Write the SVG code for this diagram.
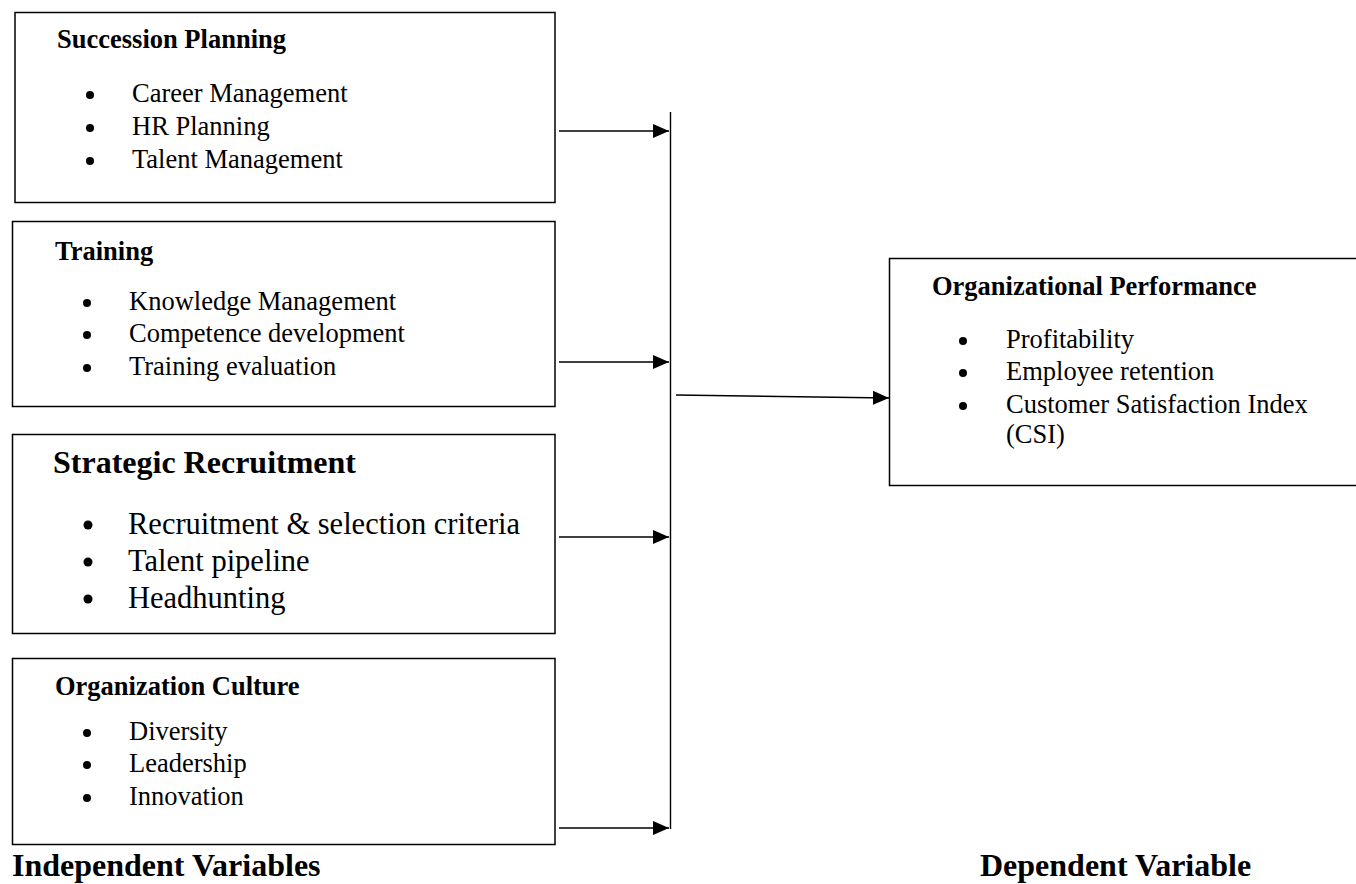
<svg xmlns="http://www.w3.org/2000/svg" width="1356" height="884" viewBox="0 0 1356 884">
<defs>
<marker id="ah" viewBox="0 0 16 14" refX="16" refY="7" markerWidth="16" markerHeight="14" markerUnits="userSpaceOnUse" orient="auto">
<path d="M0,0 L16,7 L0,14 Z" fill="#000"/>
</marker>
<style>
.box{fill:#fff;stroke:#000;stroke-width:1.5}
.h{font-family:"Liberation Serif","Times New Roman",serif;font-weight:bold;font-size:26.5px;fill:#000}
.t{font-family:"Liberation Serif","Times New Roman",serif;font-size:26.5px;fill:#000}
.hb{font-family:"Liberation Serif","Times New Roman",serif;font-weight:bold;font-size:32px;fill:#000}
.tb{font-family:"Liberation Serif","Times New Roman",serif;font-size:30.5px;fill:#000}
.lbl{font-family:"Liberation Serif","Times New Roman",serif;font-weight:bold;font-size:32px;fill:#000}
.c{stroke:#000;stroke-width:1.4;fill:none}
</style>
</defs>
<rect width="1356" height="884" fill="#fff"/>
<g id="succession">
<rect class="box" x="15" y="12.5" width="540" height="190"/>
<text class="h" x="57" y="48">Succession Planning</text>
<circle cx="90" cy="95" r="4"/><text class="t" x="132" y="102">Career Management</text>
<circle cx="90" cy="128" r="4"/><text class="t" x="132" y="135">HR Planning</text>
<circle cx="90" cy="161" r="4"/><text class="t" x="132" y="168">Talent Management</text>
</g>
<g id="training">
<rect class="box" x="12.5" y="221.5" width="542.5" height="185"/>
<text class="h" x="55" y="260">Training</text>
<circle cx="87" cy="303" r="4"/><text class="t" x="129" y="310">Knowledge Management</text>
<circle cx="87" cy="335" r="4"/><text class="t" x="129" y="342">Competence development</text>
<circle cx="87" cy="368" r="4"/><text class="t" x="129" y="375">Training evaluation</text>
</g>
<g id="recruitment">
<rect class="box" x="12.5" y="434.5" width="542.5" height="199"/>
<text class="hb" x="53" y="473">Strategic Recruitment</text>
<circle cx="88" cy="525" r="4.5"/><text class="tb" x="128" y="534">Recruitment &amp; selection criteria</text>
<circle cx="88" cy="562" r="4.5"/><text class="tb" x="128" y="571">Talent pipeline</text>
<circle cx="88" cy="599" r="4.5"/><text class="tb" x="128" y="608">Headhunting</text>
</g>
<g id="culture">
<rect class="box" x="12.5" y="658.5" width="542.5" height="186"/>
<text class="h" x="55" y="695">Organization Culture</text>
<circle cx="87" cy="733" r="4"/><text class="t" x="129" y="740">Diversity</text>
<circle cx="87" cy="765" r="4"/><text class="t" x="129" y="772">Leadership</text>
<circle cx="87" cy="798" r="4"/><text class="t" x="129" y="805">Innovation</text>
</g>
<g id="performance">
<rect class="box" x="889.5" y="258.5" width="480" height="227"/>
<text class="h" x="932" y="295">Organizational Performance</text>
<circle cx="963" cy="341" r="4"/><text class="t" x="1006" y="348">Profitability</text>
<circle cx="963" cy="373" r="4"/><text class="t" x="1006" y="380">Employee retention</text>
<circle cx="963" cy="406" r="4"/><text class="t" x="1006" y="413">Customer Satisfaction Index</text>
<text class="t" x="1006" y="443">(CSI)</text>
</g>
<g id="labels">
<text class="lbl" x="12" y="876">Independent Variables</text>
<text class="lbl" x="980" y="876">Dependent Variable</text>
</g>
<g id="connectors">
<line class="c" x1="670.5" y1="112" x2="670.5" y2="829"/>
<line class="c" x1="559" y1="131" x2="669" y2="131" marker-end="url(#ah)"/>
<line class="c" x1="559" y1="362" x2="669" y2="362" marker-end="url(#ah)"/>
<line class="c" x1="559" y1="537" x2="669" y2="537" marker-end="url(#ah)"/>
<line class="c" x1="559" y1="828" x2="669" y2="828" marker-end="url(#ah)"/>
<line class="c" x1="676" y1="395" x2="889" y2="398" marker-end="url(#ah)"/>
</g>
</svg>
